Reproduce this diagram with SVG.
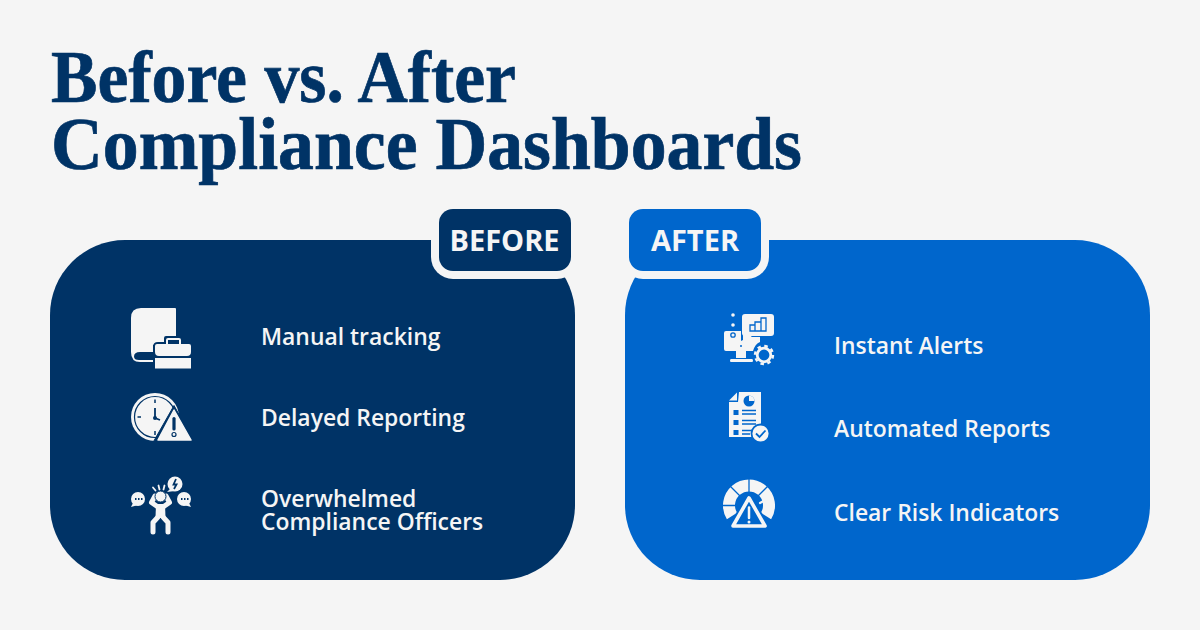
<svg xmlns="http://www.w3.org/2000/svg" width="1200" height="630" viewBox="0 0 1200 630">
<style>
.title{font-family:"Liberation Serif","DejaVu Serif",serif;font-weight:700;font-size:74px;fill:#003366;stroke:#003366;stroke-width:.7}
.tab{font-family:"Open Sans","Noto Sans",sans-serif;font-weight:700;font-size:29px;fill:#f5f5f5;text-anchor:middle}
.item{font-family:"Open Sans","Noto Sans",sans-serif;font-weight:600;font-size:22.9px;fill:#f5f5f5}
.w{fill:#f5f5f5}
.n{fill:#003366}
.b{fill:#0066cc}
</style>
<rect width="1200" height="630" fill="#f5f5f5"/>
<g id="title">
<text class="title" x="51" y="102" textLength="465" lengthAdjust="spacingAndGlyphs">Before vs. After</text>
<text class="title" x="51" y="169" textLength="751" lengthAdjust="spacingAndGlyphs">Compliance Dashboards</text>
</g>
<g id="before-panel">
<rect x="50" y="240" width="525" height="340" rx="75" fill="#003366"/>
<rect x="431" y="201" width="148" height="78" rx="22" fill="#f5f5f5"/>
<rect x="439" y="209" width="132" height="62" rx="14" fill="#003366"/>
<text class="tab" x="504.500" y="251">BEFORE</text>
</g>
<g id="after-panel">
<rect x="625" y="240" width="525" height="340" rx="75" fill="#0066cc"/>
<rect x="621" y="201" width="148" height="78" rx="22" fill="#f5f5f5"/>
<rect x="629" y="209" width="132" height="62" rx="14" fill="#0066cc"/>
<text class="tab" x="695" y="251">AFTER</text>
</g>
<g id="item-manual">
<path class="w" d="M141 308H175Q176 308 176 309V345H153V352H140Q134 352 134 356.500Q134 360 139 360H153V362H140Q131 362 131 352V318Q131 308 141 308Z"/>
<path d="M153 347Q153 342 158 342H164V338Q164 336 166 336H181Q183 336 183 338V342H189Q193 342 193 346V370H153Z" class="n"/>
<path class="w" d="M155 346Q155 344 157 344H166V340Q166 338 168 338H179Q181 338 181 340V344H189Q191 344 191 346V352Q191 356 187 356H159Q155 356 155 352Z"/>
<rect x="168" y="340" width="11" height="4" class="n"/>
<rect x="155" y="358" width="36" height="10.500" class="w"/>
<text class="item" x="261" y="345">Manual tracking</text>
</g>
<g id="item-delayed">
<circle cx="155" cy="417" r="24" class="w"/>
<circle cx="155" cy="417" r="20.500" fill="none" stroke="#003366" stroke-width="1.200"/>
<path d="M174 405.500L194.500 442.500H153Z" class="n" stroke="#003366" stroke-width="1" stroke-linejoin="round"/>
<path d="M174 410L191 440H158Z" class="w" stroke="#f5f5f5" stroke-width="1.500" stroke-linejoin="round"/>
<path d="M155 408V418L160 420" fill="none" stroke="#003366" stroke-width="1.800"/>
<circle cx="155" cy="418" r="2" class="n"/>
<path d="M155 399.500V403M137.500 417H141M155 431V435" stroke="#003366" stroke-width="1.500"/>
<path d="M174 418.500V429" stroke="#003366" stroke-width="3.200" stroke-linecap="round"/>
<circle cx="174" cy="434.500" r="2" fill="none" stroke="#003366" stroke-width="1.200"/>
<text class="item" x="261" y="426">Delayed Reporting</text>
</g>
<g id="item-overwhelmed">
<circle cx="138" cy="499" r="7" class="w"/><path class="w" d="M133 503L131 507L138 505Z"/>
<circle cx="184" cy="499" r="7" class="w"/><path class="w" d="M189 503L191 507L184 505Z"/>
<path d="M135 499h1.500M138 499h1.500M141 499h1.500M181 499h1.500M184 499h1.500M187 499h1.500" stroke="#003366" stroke-width="2"/>
<circle cx="175" cy="484" r="7.500" class="w"/><path class="w" d="M170 489L167 492L175 491Z"/>
<path d="M176 479L173.500 484.500H176.500L174 489" fill="none" stroke="#003366" stroke-width="1.800"/>
<path d="M155 496L151.500 502.500L158 507M166 496L169.500 502.500L163 507" fill="none" stroke="#f5f5f5" stroke-width="5" stroke-linecap="round" stroke-linejoin="round"/>
<path class="w" d="M156 504H165L165.500 518H155.500Z"/>
<circle cx="160.500" cy="496.500" r="5.500" class="w" stroke="#003366" stroke-width="1"/>
<path d="M158 517L153 522.500V532M163 517L168 522.500V532" fill="none" stroke="#f5f5f5" stroke-width="5" stroke-linecap="round" stroke-linejoin="round"/>
<path d="M153 487.500L155.500 490.500M158.500 485.500L159.500 489.500M164.500 485.500L163.500 489.500" stroke="#f5f5f5" stroke-width="1.800" stroke-linecap="round"/>
<text class="item" x="261" y="507">Overwhelmed</text>
<text class="item" x="261" y="530">Compliance Officers</text>
</g>
<g id="item-instant">
<path class="w" d="M726 331H741V341L749 337H760V342Q755 344 753 351H726Q724 351 724 349V333Q724 331 726 331Z"/>
<rect x="742" y="314" width="32" height="22" rx="3" class="w"/>
<path class="w" d="M743 334V344L753 335Z"/>
<path d="M750 331V325H755V331ZM755 331V322H761V331ZM761 331V318H766V331Z" fill="none" stroke="#0066cc" stroke-width="1.300"/>
<circle cx="733" cy="315" r="1.800" class="w"/><circle cx="733" cy="325" r="1.800" class="w"/>
<circle cx="733" cy="335" r="2.200" fill="none" stroke="#0066cc" stroke-width="1.300"/>
<circle cx="741" cy="346" r="1" class="b"/>
<path class="w" d="M736 351H746V358H736ZM731 359H752Q753 359 753 360.500Q753 362 752 362H731Q730 362 730 360.500Q730 359 731 359Z"/>
<circle cx="764" cy="355" r="6.800" fill="none" stroke="#f5f5f5" stroke-width="2.800"/>
<circle cx="764" cy="355" r="9" fill="none" stroke="#f5f5f5" stroke-width="2.400" stroke-dasharray="3.500 3.570"/>
<text class="item" x="834" y="354">Instant Alerts</text>
</g>
<g id="item-automated">
<path class="w" d="M739 392H761V437H729V402H738Z"/>
<path class="w" d="M737 392.500V400.500H729Z"/>
<circle cx="749" cy="401" r="5.500" class="b"/>
<path d="M749 401V395.500A5.500 5.500 0 0 1 754.500 401Z" class="w"/>
<path d="M733.500 410h5v5h-5zM733.500 420h5v5h-5zM733.500 430h5v5h-5z" class="b"/>
<path d="M742 410.500H756M742 414H756M742 420.500H756M742 424H756M742 430.500H752M742 434H750" stroke="#0066cc" stroke-width="1.500"/>
<circle cx="760.500" cy="433.500" r="9" class="w" stroke="#0066cc" stroke-width="1.800"/>
<path d="M756 433.500L759.500 437L765.500 430.500" fill="none" stroke="#0066cc" stroke-width="1.800"/>
<text class="item" x="834" y="437">Automated Reports</text>
</g>
<g id="item-risk">
<path d="M732 516A20 20 0 1 1 766 516" fill="none" stroke="#f5f5f5" stroke-width="12"/>
<path d="M749 478V492M730 486L740 496M722 505.500H736M768 486L758 496" stroke="#0066cc" stroke-width="1.300"/>
<path d="M749 498L765 526H733Z" class="b" stroke="#0066cc" stroke-width="7.500" stroke-linejoin="round"/>
<path d="M749 498L765 526H733Z" class="b" stroke="#f5f5f5" stroke-width="3.600" stroke-linejoin="round"/>
<path d="M749 507.500V518" stroke="#f5f5f5" stroke-width="2.500" stroke-linecap="round"/>
<circle cx="749" cy="522" r="1.500" class="w"/>
<path d="M760 503L767 499" stroke="#f5f5f5" stroke-width="2.200" stroke-linecap="round"/>
<text class="item" x="834" y="521">Clear Risk Indicators</text>
</g>
</svg>
